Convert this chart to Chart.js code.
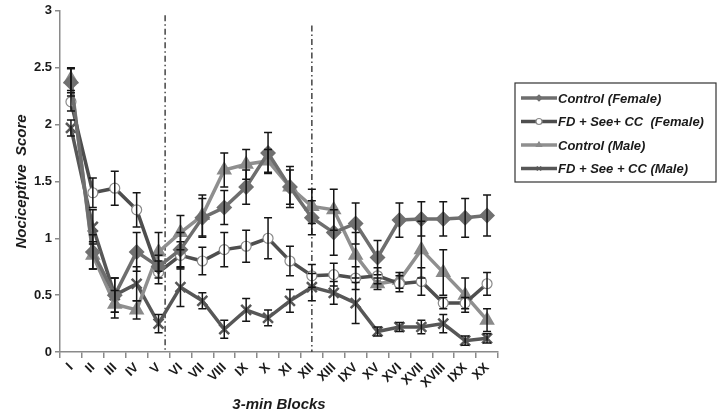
<!DOCTYPE html>
<html>
<head>
<meta charset="utf-8">
<script src="https://cdn.jsdelivr.net/npm/chart.js@4.4.0/dist/chart.umd.min.js"></script>
<style>
  html, body { margin: 0; padding: 0; background: #fff; }
</style>
</head>
<body>
<canvas id="myChart" width="721" height="417"></canvas>
<script>
var ctx = document.getElementById('myChart');

// 3-min blocks (labels as printed in the figure)
const blocks = ['I', 'II', 'III', 'IV', 'V', 'VI', 'VII', 'VIII', 'IX', 'X',
  'XI', 'XII', 'XIII', 'IXV', 'XV', 'XVI', 'XVII', 'XVIII', 'IXX', 'XX'];

const controlFemale    = [2.37, 0.88, 0.50, 0.88, 0.75, 0.90, 1.18, 1.27, 1.45, 1.75, 1.45, 1.18, 1.05, 1.13, 0.83, 1.16, 1.17, 1.17, 1.18, 1.20];
const controlFemaleErr = [0.12, 0.15, 0.15, 0.17, 0.10, 0.15, 0.17, 0.15, 0.15, 0.18, 0.18, 0.15, 0.20, 0.18, 0.15, 0.15, 0.15, 0.15, 0.17, 0.18];

const fdFemale    = [2.20, 1.40, 1.44, 1.25, 0.70, 0.85, 0.80, 0.90, 0.93, 1.00, 0.80, 0.67, 0.68, 0.65, 0.67, 0.60, 0.62, 0.43, 0.43, 0.60];
const fdFemaleErr = [0.08, 0.13, 0.15, 0.15, 0.10, 0.12, 0.12, 0.15, 0.14, 0.18, 0.13, 0.10, 0.10, 0.10, 0.07, 0.07, 0.12, 0.05, 0.05, 0.10];

const controlMale    = [2.40, 0.85, 0.42, 0.37, 0.88, 1.05, 1.20, 1.60, 1.65, 1.68, 1.45, 1.28, 1.25, 0.85, 0.60, 0.63, 0.90, 0.70, 0.50, 0.28];
const controlMaleErr = [0.10, 0.12, 0.12, 0.08, 0.17, 0.15, 0.18, 0.15, 0.13, 0.10, 0.15, 0.15, 0.18, 0.20, 0.05, 0.07, 0.25, 0.20, 0.15, 0.10];

const fdMale    = [1.97, 1.10, 0.50, 0.60, 0.25, 0.57, 0.45, 0.20, 0.37, 0.30, 0.45, 0.57, 0.52, 0.43, 0.18, 0.22, 0.22, 0.25, 0.10, 0.12];
const fdMaleErr = [0.07, 0.15, 0.15, 0.15, 0.08, 0.17, 0.07, 0.08, 0.10, 0.07, 0.10, 0.12, 0.10, 0.18, 0.04, 0.04, 0.06, 0.08, 0.04, 0.04];

// dash-dot phase separators (category position, top value)
const phaseBreaks = [4.3, 11.0];
const phaseTops = [2.96, 2.87];

const errorBars = {
  id: 'errorBars',
  afterDatasetsDraw(chart) {
    const c = chart.ctx, y = chart.scales.y;
    c.save();
    c.strokeStyle = '#151515';
    c.lineWidth = 1.5;
    chart.data.datasets.forEach(function (ds, di) {
      const meta = chart.getDatasetMeta(di);
      meta.data.forEach(function (pt, i) {
        const top = y.getPixelForValue(ds.data[i] + ds.errors[i]);
        const bot = y.getPixelForValue(ds.data[i] - ds.errors[i]);
        c.beginPath();
        c.moveTo(pt.x, top); c.lineTo(pt.x, bot);
        c.moveTo(pt.x - 4, top); c.lineTo(pt.x + 4, top);
        c.moveTo(pt.x - 4, bot); c.lineTo(pt.x + 4, bot);
        c.stroke();
      });
    });
    c.restore();
  }
};

const phaseLines = {
  id: 'phaseLines',
  beforeDatasetsDraw(chart) {
    const c = chart.ctx, x = chart.scales.x, y = chart.scales.y;
    c.save();
    c.strokeStyle = '#444';
    c.lineWidth = 1.5;
    c.setLineDash([6, 3, 1.5, 3]);
    phaseBreaks.forEach(function (b, i) {
      const px = x.getPixelForValue(b);
      c.beginPath();
      c.moveTo(px, y.getPixelForValue(phaseTops[i]));
      c.lineTo(px, y.getPixelForValue(0));
      c.stroke();
    });
    c.restore();
  }
};

// boxed legend with line + marker samples
const boxLegend = {
  id: 'boxLegend',
  afterDraw(chart) {
    const c = chart.ctx;
    const left = chart.chartArea.right + 17, top = 83, w = 201, h = 99;
    c.save();
    c.strokeStyle = '#333';
    c.lineWidth = 1.2;
    c.strokeRect(left, top, w, h);
    c.font = 'italic bold 13px "Liberation Sans", Arial, sans-serif';
    c.textBaseline = 'middle';
    chart.data.datasets.forEach(function (ds, i) {
      const yy = top + 15 + i * 23.5;
      c.strokeStyle = ds.borderColor;
      c.lineWidth = 3.5;
      c.beginPath();
      c.moveTo(left + 6, yy); c.lineTo(left + 42, yy);
      c.stroke();
      c.fillStyle = ds.pointBackgroundColor;
      c.strokeStyle = ds.pointBorderColor;
      c.lineWidth = 1.2;
      Chart.helpers.drawPoint(c, { pointStyle: ds.pointStyle, radius: 3, rotation: 0, borderWidth: 1.2 }, left + 24, yy);
      c.fillStyle = '#1a1a1a';
      c.fillText(ds.label, left + 43, yy + 1);
    });
    c.restore();
  }
};

var myChart = new Chart(ctx, {
  type: 'line',
  data: {
    labels: blocks,
    datasets: [
      {
        label: 'Control (Female)',
        data: controlFemale,
        errors: controlFemaleErr,
        borderColor: '#6e6e6e',
        pointStyle: 'rectRot',
        pointRadius: 5.5,
        pointBackgroundColor: '#707070',
        pointBorderColor: '#707070',
        borderWidth: 3.5
      },
      {
        label: 'FD + See+ CC  (Female)',
        data: fdFemale,
        errors: fdFemaleErr,
        borderColor: '#4e4e4e',
        pointStyle: 'circle',
        pointRadius: 5,
        pointBackgroundColor: '#ffffff',
        pointBorderColor: '#8a8a8a',
        pointBorderWidth: 1.2,
        borderWidth: 3.5
      },
      {
        label: 'Control (Male)',
        data: controlMale,
        errors: controlMaleErr,
        borderColor: '#8f8f8f',
        pointStyle: 'triangle',
        pointRadius: 5.5,
        pointBackgroundColor: '#8a8a8a',
        pointBorderColor: '#8a8a8a',
        borderWidth: 3.5
      },
      {
        label: 'FD + See + CC (Male)',
        data: fdMale,
        errors: fdMaleErr,
        borderColor: '#575757',
        pointStyle: 'crossRot',
        pointRadius: 7,
        pointBackgroundColor: '#575757',
        pointBorderColor: '#575757',
        pointBorderWidth: 2.5,
        borderWidth: 3.5
      }
    ]
  },
  options: {
    responsive: false,
    animation: false,
    layout: { padding: { left: 0, right: 223, top: 10, bottom: 0 } },
    elements: { line: { tension: 0 } },
    plugins: {
      legend: { display: false },
      tooltip: { enabled: false }
    },
    scales: {
      x: {
        type: 'category',
        offset: true,
        grid: { offset: true, drawOnChartArea: false, tickLength: 6, color: '#8a8a8a', lineWidth: 1.5 },
        border: { color: '#8a8a8a', width: 1.5 },
        ticks: {
          autoSkip: false, maxRotation: 45, minRotation: 45, padding: 2,
          color: '#1a1a1a',
          font: { family: '"Liberation Sans", Arial, sans-serif', weight: 'bold', size: 13 }
        },
        title: {
          display: true,
          text: '3-min Blocks',
          color: '#1a1a1a',
          padding: { top: 4, bottom: 3 },
          font: { family: '"Liberation Sans", Arial, sans-serif', weight: 'bold', style: 'italic', size: 15 }
        },
        afterFit: function (s) { s.height = 65; }
      },
      y: {
        min: 0,
        max: 3,
        grid: { drawOnChartArea: false, tickLength: 5, color: '#8a8a8a', lineWidth: 1.5 },
        border: { color: '#8a8a8a', width: 1.5 },
        ticks: {
          stepSize: 0.5, padding: 3,
          color: '#1a1a1a',
          font: { family: '"Liberation Sans", Arial, sans-serif', weight: 'bold', size: 13 },
          callback: function (v) { return String(Number(v.toFixed(1))); }
        },
        title: {
          display: true,
          text: 'Nociceptive  Score',
          color: '#1a1a1a',
          padding: { top: 13, bottom: 4 },
          font: { family: '"Liberation Sans", Arial, sans-serif', weight: 'bold', style: 'italic', size: 15 }
        },
        afterFit: function (s) { s.width = 60; }
      }
    }
  },
  plugins: [phaseLines, errorBars, boxLegend]
});
</script>
</body>
</html>
